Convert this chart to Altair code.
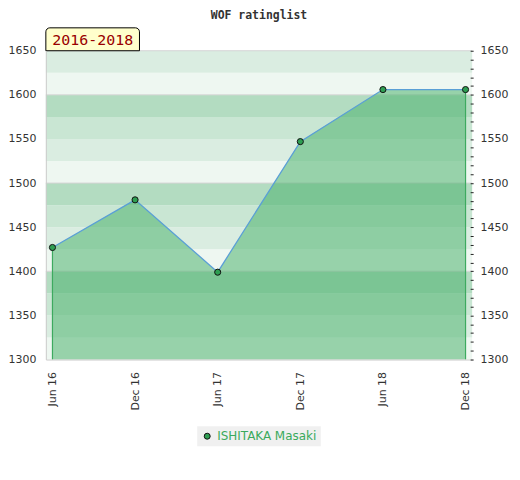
import altair as alt
import pandas as pd

# ---- data ----
periods = ["Jun 16", "Dec 16", "Jun 17", "Dec 17", "Jun 18", "Dec 18"]
ratings = [1427, 1481, 1399, 1547, 1606, 1606]
player = "ISHITAKA Masaki"
period_label = "2016-2018"
y_min, y_max = 1300, 1650
band_step = 25
band_colors = ["#eef7f1", "#daede1", "#c9e6d3", "#b3dcc1"]
hundred_lines = [1400, 1500, 1600, 1650]

W, H = 428, 310

df = pd.DataFrame({"period": periods, "rating": ratings, "player": [player] * len(periods)})
ends = df.iloc[[0, len(df) - 1]]

lows = list(range(y_min, y_max, band_step))
bands = pd.DataFrame({
    "lo": lows,
    "hi": [v + band_step for v in lows],
    "col": [band_colors[i % 4] for i in range(len(lows))],
})
lines_df = pd.DataFrame({"v": hundred_lines})
box_df = pd.DataFrame({"t": [period_label]})

xenc = alt.X("period:N", sort=periods,
             scale=alt.Scale(type="point", padding=0.08),
             axis=alt.Axis(title=None, labelAngle=270, ticks=False, domainColor="#cccccc",
                           labelPadding=12, labelFontSize=11, labelFont="DejaVu Sans",
                           labelColor="#333333", zindex=1))
yscale = alt.Scale(domain=[y_min, y_max], nice=False, zero=False)

band_layer = alt.Chart(bands).mark_rect().encode(
    x=alt.value(0), x2=alt.value(W),
    y=alt.Y("lo:Q", scale=yscale,
            axis=alt.Axis(title=None, values=list(range(y_min, y_max + 1, 50)), ticks=False,
                          format="d", domainColor="#cccccc", labelPadding=10, labelFontSize=11,
                          labelFont="DejaVu Sans", labelColor="#333333", grid=False, zindex=1)),
    y2="hi:Q",
    fill=alt.Fill("col:N", scale=None),
)

grid_layer = alt.Chart(lines_df).mark_rule(color="#d4d4d4", strokeWidth=1).encode(
    x=alt.value(0), x2=alt.value(W), y=alt.Y("v:Q", scale=yscale, axis=None)
)

area_layer = alt.Chart(df).mark_area(color="#4ab16c", opacity=0.53).encode(
    x=xenc,
    y=alt.Y("rating:Q", scale=yscale,
            axis=alt.Axis(title=None, orient="right", values=list(range(y_min, y_max + 1, 10)),
                          format="d",
                          labelExpr="datum.value % 50 == 0 ? datum.label : ''",
                          tickSize=3, tickColor="#222222", domain=False, offset=-2,
                          labelPadding=7, labelFontSize=11, labelFont="DejaVu Sans",
                          labelColor="#333333", grid=False, zindex=1)),
    y2=alt.datum(y_min),
)

edge_layer = alt.Chart(ends).mark_rule(color="#3daa5f", strokeWidth=1.2).encode(
    x=alt.X("period:N", sort=periods), y=alt.Y("rating:Q", scale=yscale, axis=None),
    y2=alt.datum(y_min),
)

line_layer = alt.Chart(df).mark_line(color="#5a9fd6", strokeWidth=1.3).encode(
    x=alt.X("period:N", sort=periods), y=alt.Y("rating:Q", scale=yscale, axis=None),
)

point_layer = alt.Chart(df).mark_point(shape="circle", filled=True, stroke="#111111",
                                       strokeWidth=1, size=38, opacity=1).encode(
    x=alt.X("period:N", sort=periods), y=alt.Y("rating:Q", scale=yscale, axis=None),
    color=alt.Color("player:N", scale=alt.Scale(range=["#2e9e52"]),
                    legend=alt.Legend(title=None, orient="none", legendX=152, legendY=377,
                                      fillColor="#f0f0f0", padding=4,
                                      labelColor="#3aaa5c", labelFont="DejaVu Sans",
                                      labelFontSize=12, symbolType="circle",
                                      symbolStrokeColor="#111111", symbolStrokeWidth=1,
                                      symbolSize=36, symbolOpacity=1)),
)

box_layer = alt.Chart(box_df).mark_rect(fill="#ffffcc", stroke="#000000", strokeWidth=1,
                                        cornerRadiusTopLeft=4, cornerRadiusTopRight=4,
                                        clip=False).encode(
    x=alt.value(0), x2=alt.value(94), y=alt.value(-23), y2=alt.value(0)
)
box_text = alt.Chart(box_df).mark_text(font="DejaVu Sans Mono", fontSize=15, color="#990000",
                                       align="center", baseline="middle", clip=False).encode(
    x=alt.value(47), y=alt.value(-11), text="t:N"
)

chart = alt.layer(
    band_layer, grid_layer, area_layer, edge_layer, line_layer, point_layer, box_layer, box_text
).resolve_axis(y="independent").properties(
    width=W, height=H,
    title=alt.TitleParams("WOF ratinglist", font="DejaVu Sans Mono", fontSize=11.5,
                          fontWeight="bold", color="#333333", anchor="middle", offset=6),
    autosize=alt.AutoSizeParams(type="none"),
    padding={"left": 38, "top": 42, "right": 40, "bottom": 110},
).configure_view(stroke=None)

chart.save("out.html", embed_options={"renderer": "svg", "actions": False})
